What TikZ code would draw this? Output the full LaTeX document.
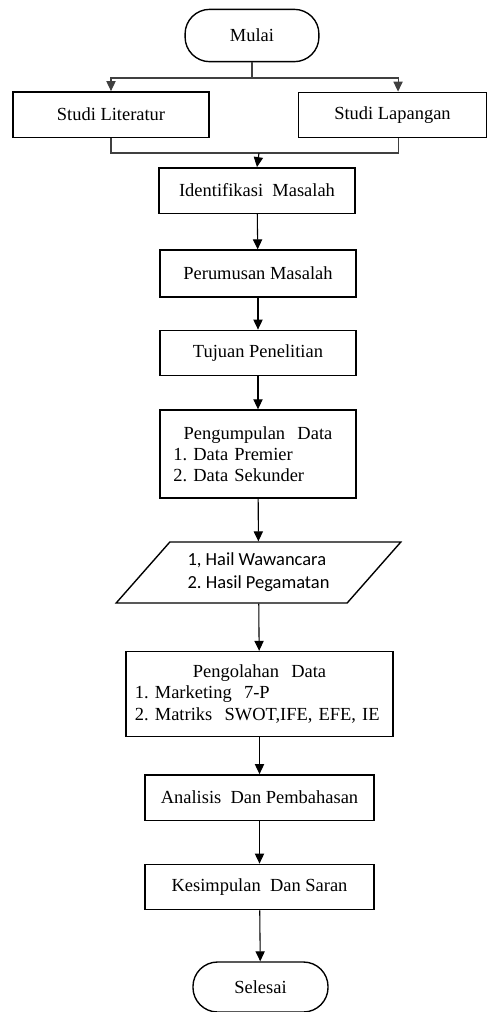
\documentclass[tikz,border=0pt]{standalone}
\usepackage{fontspec}
\setmainfont{Liberation Serif}
\newfontfamily\calibri{Carlito}
\usetikzlibrary{arrows.meta,shapes.geometric}
\frenchspacing

\tikzset{
  proses/.style={draw, line width=0.9pt, minimum height=29.5pt, align=center, inner sep=2pt},
  terminal/.style={draw, line width=0.9pt, rounded corners=16pt, minimum width=87pt, minimum height=34pt},
  garis/.style={draw=black!75, line width=0.7pt},
  panah/.style={line width=0.7pt, -{Triangle[length=6.5pt,width=6pt]}}
}

\begin{document}
\begin{tikzpicture}[x=0.65pt, y=-0.65pt, font=\fontsize{12pt}{13.8pt}\selectfont]
    \useasboundingbox (0,0) rectangle (486,1012);

    \node[terminal] (mulai) at (252,35.5) {Mulai};
    \node[proses, minimum width=127.4pt] (lit) at (111,114.5) {Studi Literatur};
    \node[proses, minimum width=122pt] (lap) at (392.5,115) {Studi Lapangan};
    \node[proses, minimum width=127.4pt] (ident) at (257,190.5) {Identifikasi\ \ Masalah};
    \node[proses, minimum width=127.4pt, minimum height=30.5pt] (rumus) at (258,273.5) {Perumusan Masalah};
    \node[proses, minimum width=127.4pt] (tujuan) at (258,353) {Tujuan Penelitian};
    \node[proses, minimum width=127.4pt, minimum height=57.2pt, text width=110pt, align=left, inner sep=8.45pt] (kumpul) at (258,454)
        {\makebox[\linewidth]{Pengumpulan\ \ Data}\\ 1. Data Premier\\ 2. Data Sekunder};
    \node[draw, line width=0.9pt, trapezium, trapezium left angle=47, trapezium right angle=133,
          trapezium stretches=true, minimum width=185pt, minimum height=39.6pt, align=left,
          font=\calibri\fontsize{12pt}{15pt}\selectfont] (hasil) at (258.5,572.5)
        {1, Hail Wawancara\\ 2. Hasil Pegamatan};
    \node[proses, minimum width=173.6pt, minimum height=55.2pt, text width=162pt, align=left, inner sep=5.8pt] (olah) at (259.5,694)
        {\makebox[\linewidth]{Pengolahan\ \ Data}\\ 1. Marketing\ \ 7-P\\ 2. Matriks\ \ SWOT,IFE, EFE, IE};
    \node[proses, minimum width=148.9pt] (analisis) at (259.5,797.5) {Analisis\ \ Dan Pembahasan};
    \node[proses, minimum width=148.9pt] (simpul) at (259.5,887) {Kesimpulan\ \ Dan Saran};
    \node[terminal, minimum width=87.8pt, minimum height=32.5pt] (selesai) at (260.5,987) {Selesai};

    \coordinate (cabang) at (252,78);
    \coordinate (gabung) at (259,153);

    % percabangan studi
    \draw[garis] (mulai.south) -- (cabang);
    \draw[garis, panah] (cabang) -| (lit.north);
    \draw[garis, panah] (cabang) -| ([xshift=3.6pt]lap.north);
    \draw[garis] (lit.south) |- (gabung) -| ([xshift=4pt]lap.south);
    \draw[panah] (gabung) -- (ident.north);

    % alur utama
    \draw[panah] (ident) -- (rumus);
    \draw[panah] (rumus) -- (tujuan);
    \draw[panah] (tujuan) -- (kumpul);
    \draw[panah] (kumpul) -- (hasil);
    \draw[panah] (hasil) -- (olah);
    \draw[panah] (olah) -- (analisis);
    \draw[panah] (analisis) -- (simpul);
    \draw[panah] (simpul) -- (selesai);
\end{tikzpicture}
\end{document}
